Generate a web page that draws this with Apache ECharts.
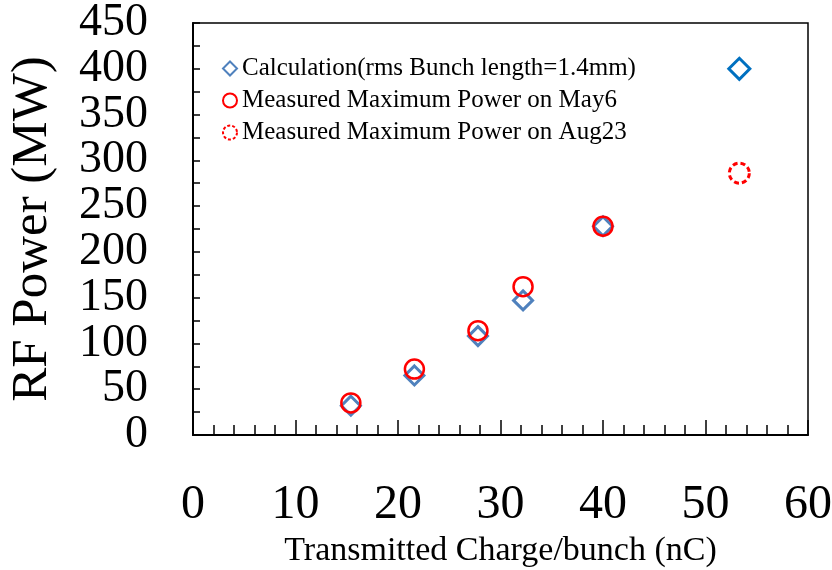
<!DOCTYPE html>
<html>
<head>
<meta charset="utf-8">
<script src="https://cdn.jsdelivr.net/npm/echarts@6/dist/echarts.min.js"></script>
<style>
html,body{margin:0;padding:0;background:#fff;}
#chart{width:832px;height:570px;}
</style>
</head>
<body>
<div id="chart"></div>
<script>
// Data
const calcCharge = [15.4, 21.6, 27.8, 32.2, 40.0, 53.3];
const calcPower  = [32, 65, 108, 147, 228, 400];
const may6Charge = [15.4, 21.6, 27.8, 32.2, 40.0];
const may6Power  = [35, 72, 114, 162, 228];
const aug23Charge = [53.3];
const aug23Power  = [286];
const seriesNames = [
  'Calculation(rms Bunch length=1.4mm)',
  'Measured Maximum Power on May6',
  'Measured Maximum Power on Aug23'
];
const xTitle = 'Transmitted Charge/bunch (nC)';
const yTitle = 'RF Power (MW)';

const pairs = (xs, ys) => xs.map((x, i) => [x, ys[i]]);
const FONT = '"Liberation Serif", "Times New Roman", serif';

const calcData = pairs(calcCharge, calcPower).map((p, i, arr) =>
  i === arr.length - 1
    ? { value: p, symbolSize: 21, itemStyle: { borderColor: '#0070C0' } }
    : { value: p });

const yLabelStyle = { fontFamily: FONT, fontSize: 46, color: '#000', margin: 45,
                      showMinLabel: true, showMaxLabel: true, hideOverlap: false };

const chart = echarts.init(document.getElementById('chart'), null, { renderer: 'canvas' });
chart.setOption({
  animation: false,
  backgroundColor: '#fff',
  grid: { left: 193, right: 24, top: 23, bottom: 135, containLabel: false, outerBoundsMode: 'none',
          show: true, borderColor: '#000', borderWidth: 1.5 },
  legend: {
    orient: 'vertical',
    left: 217,
    top: 51,
    itemWidth: 14,
    itemHeight: 14,
    itemGap: 7,
    textStyle: { fontFamily: FONT, fontSize: 25, color: '#000' },
    data: [
      { name: seriesNames[0], itemStyle: { borderWidth: 2 } },
      { name: seriesNames[1], itemStyle: { borderWidth: 2 } },
      { name: seriesNames[2], itemStyle: { borderWidth: 2, borderType: [3, 2] } }
    ]
  },
  xAxis: {
    type: 'value', min: 0, max: 60, interval: 10,
    name: xTitle, nameLocation: 'middle', nameGap: 99,
    nameTextStyle: { fontFamily: FONT, fontSize: 34, color: '#000' },
    axisLine: { lineStyle: { color: '#000', width: 2 } },
    axisTick: { inside: true, length: 15, lineStyle: { color: '#000', width: 1.5 } },
    minorTick: { show: true, splitNumber: 5, length: 10, lineStyle: { color: '#000', width: 1.5 } },
    splitLine: { show: false },
    axisLabel: { fontFamily: FONT, fontSize: 48, color: '#000', margin: 46,
                 showMinLabel: true, showMaxLabel: true, hideOverlap: false }
  },
  yAxis: [
    {
      type: 'value', min: 0, max: 450, interval: 50, position: 'left',
      name: yTitle, nameLocation: 'middle', nameGap: 135, nameRotate: 90,
      nameTextStyle: { fontFamily: FONT, fontSize: 51, color: '#000' },
      axisLine: { lineStyle: { color: '#000', width: 2 } },
      axisTick: { inside: true, length: 7, lineStyle: { color: '#000', width: 1.5 } },
      minorTick: { show: true, splitNumber: 2, length: 7, lineStyle: { color: '#000', width: 1.5 } },
      splitLine: { show: false },
      axisLabel: Object.assign({}, yLabelStyle, { formatter: v => (v % 100 === 0 ? String(v) : '') })
    },
    {
      type: 'value', min: 0, max: 450, interval: 50, position: 'left', offset: 0,
      axisLine: { show: false }, axisTick: { show: false }, splitLine: { show: false },
      axisLabel: Object.assign({}, yLabelStyle, { formatter: v => (v % 100 !== 0 ? String(v) : '') })
    }
  ],
  series: [
    {
      name: seriesNames[0], type: 'scatter', symbol: 'diamond', symbolSize: 19,
      itemStyle: { color: 'rgba(255,255,255,0)', borderColor: '#4F81BD', borderWidth: 3, opacity: 1 },
      data: calcData, z: 2
    },
    {
      name: seriesNames[1], type: 'scatter', symbol: 'circle', symbolSize: 19,
      itemStyle: { color: 'rgba(255,255,255,0)', borderColor: '#FF0000', borderWidth: 2.5, opacity: 1 },
      data: pairs(may6Charge, may6Power), z: 3
    },
    {
      name: seriesNames[2], type: 'scatter', symbol: 'circle', symbolSize: 20,
      itemStyle: { color: 'rgba(255,255,255,0)', borderColor: '#FF0000', borderWidth: 3, borderType: [5, 3], opacity: 1 },
      data: pairs(aug23Charge, aug23Power), z: 3
    }
  ]
});
</script>
</body>
</html>
